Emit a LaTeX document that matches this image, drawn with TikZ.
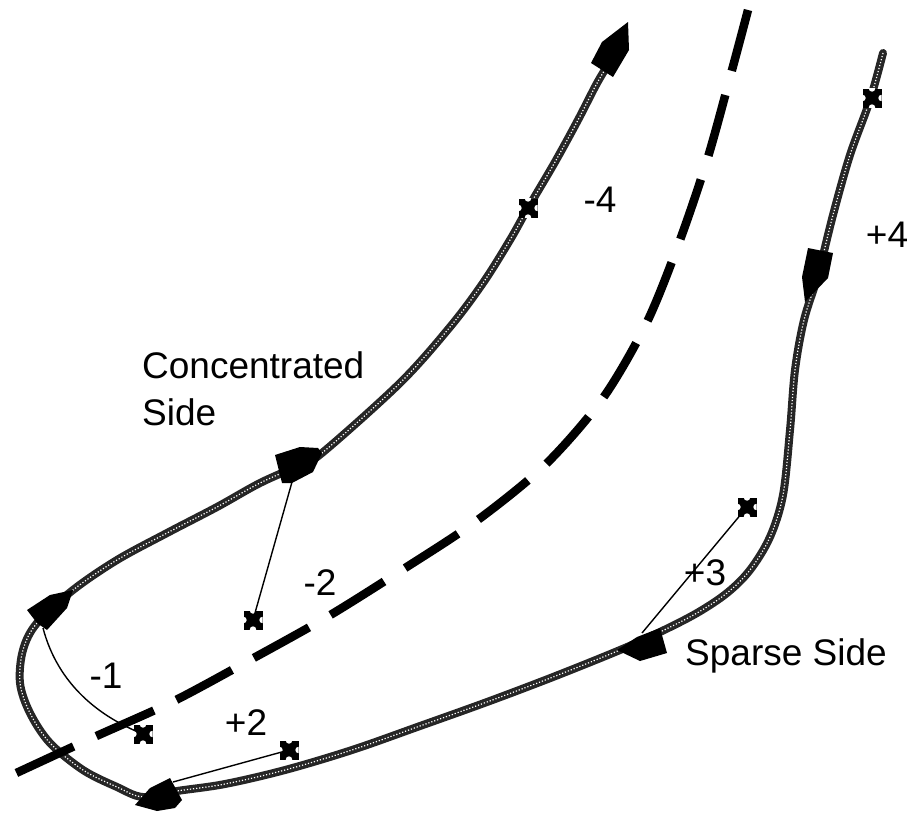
\documentclass[tikz,border=0pt]{standalone}
\usepackage{fontspec}
\setmainfont{Liberation Sans}
\begin{document}
\begin{tikzpicture}[x=1pt,y=-1pt,
  mainline/.style={draw=black!85, line width=8pt, line join=round, line cap=round},
  stipple/.style={draw=white, line width=1.2pt, dash pattern=on 1.2pt off 1.9pt},
  divline/.style={draw=black, line width=8.5pt, dash pattern=on 63pt off 25pt},
  thin/.style={draw=black, line width=1.4pt},
  ahead/.style={fill=black},
  xmark/.style={rectangle, fill=black, minimum size=19pt, inner sep=0pt,
    path picture={\fill[white] (path picture bounding box.north) circle (3.2pt)
      (path picture bounding box.south) circle (3.2pt)
      (path picture bounding box.east) circle (3.2pt)
      (path picture bounding box.west) circle (3.2pt);}},
  lab/.style={font=\fontsize{37}{44}\selectfont, inner sep=0pt}]
\useasboundingbox (0,0) rectangle (915,814);
% main curve
\def\maincurve{plot[smooth, tension=0.55] coordinates {
 (883,53) (870,100) (850,155) (833,215) (818,275) (804,320) (795,370)
 (790,430) (783,495) (770,537) (750,570) (727,593) (697,613)
 (660,632) (620,650) (553,677) (487,702) (420,726) (352,750) (285,770) (225,784)
 (177,791) (143,797) (117,787) (83,770) (50,743) (30,713) (20,683) (23,650)
 (37,623) (73,590) (117,560) (167,533) (217,507) (260,483) (300,465) (322,453)
 (400,383) (450,327) (483,283) (510,240) (528,208) (555,162) (578,120) (596,85) (606,68)}}
\draw[mainline] \maincurve;
\draw[stipple] \maincurve;
% dividing dashed line
\draw[divline] plot[smooth, tension=0.5] coordinates {
 (748,10) (732,70) (708,157) (680,240) (647,322) (603,398) (545,465) (475,522)
 (402,570) (327,617) (250,660) (172,702) (92,738) (12,775)};
% arrowheads
\fill[ahead] (628,22) -- (629,50) -- (613,77) -- (591,63) -- (602,42) -- cycle;
\fill[ahead] (808,248) -- (833,253) -- (828,278) -- (805,302) -- (802,277) -- cycle;
\fill[ahead] (617,650) -- (637,637) -- (660,628) -- (667,653) -- (640,661) -- cycle;
\fill[ahead] (135,805) -- (150,788) -- (170,778) -- (182,800) -- (175,808) -- (157,811) -- cycle;
\fill[ahead] (27,610) -- (50,595) -- (73,590) -- (67,608) -- (47,630) -- (37,623) -- cycle;
\fill[ahead] (275,455) -- (300,447) -- (318,448) -- (322,453) -- (313,472) -- (292,483) -- (282,483) -- cycle;
% arrow anchor points
\coordinate (a2) at (292,482);
\coordinate (a1) at (43,628);
\coordinate (p2) at (173,782);
\coordinate (p3) at (642,633);
% crosses
\node[xmark] (cm4) at (528,208) {};
\node[xmark] (cp4) at (872,98) {};
\node[xmark] (cm2) at (253,620) {};
\node[xmark] (cm1) at (143,734) {};
\node[xmark] (cp2) at (289,750) {};
\node[xmark] (cp3) at (747,507) {};
% thin connectors
\draw[thin] (a2) -- (cm2.center);
\draw[thin] (a1) .. controls (58,685) and (100,717) .. (cm1.center);
\draw[thin] (p2) -- (cp2.center);
\draw[thin] (p3) -- (cp3.center);
% labels
\node[lab, anchor=base] (lm4) at (600,212) {-4};
\node[lab, anchor=base] (lp4) at (887,247) {+4};
\node[lab, anchor=base west] (conc) at (142,378) {Concentrated};
\node[lab, anchor=base west] (side) at (142,425) {Side};
\node[lab, anchor=base] (lm2) at (320,595) {-2};
\node[lab, anchor=base] (lm1) at (106,688) {-1};
\node[lab, anchor=base] (lp2) at (246,735) {+2};
\node[lab, anchor=base] (lp3) at (705,585) {+3};
\node[lab, anchor=base west] (sparse) at (685,665) {Sparse Side};
\end{tikzpicture}
\end{document}
